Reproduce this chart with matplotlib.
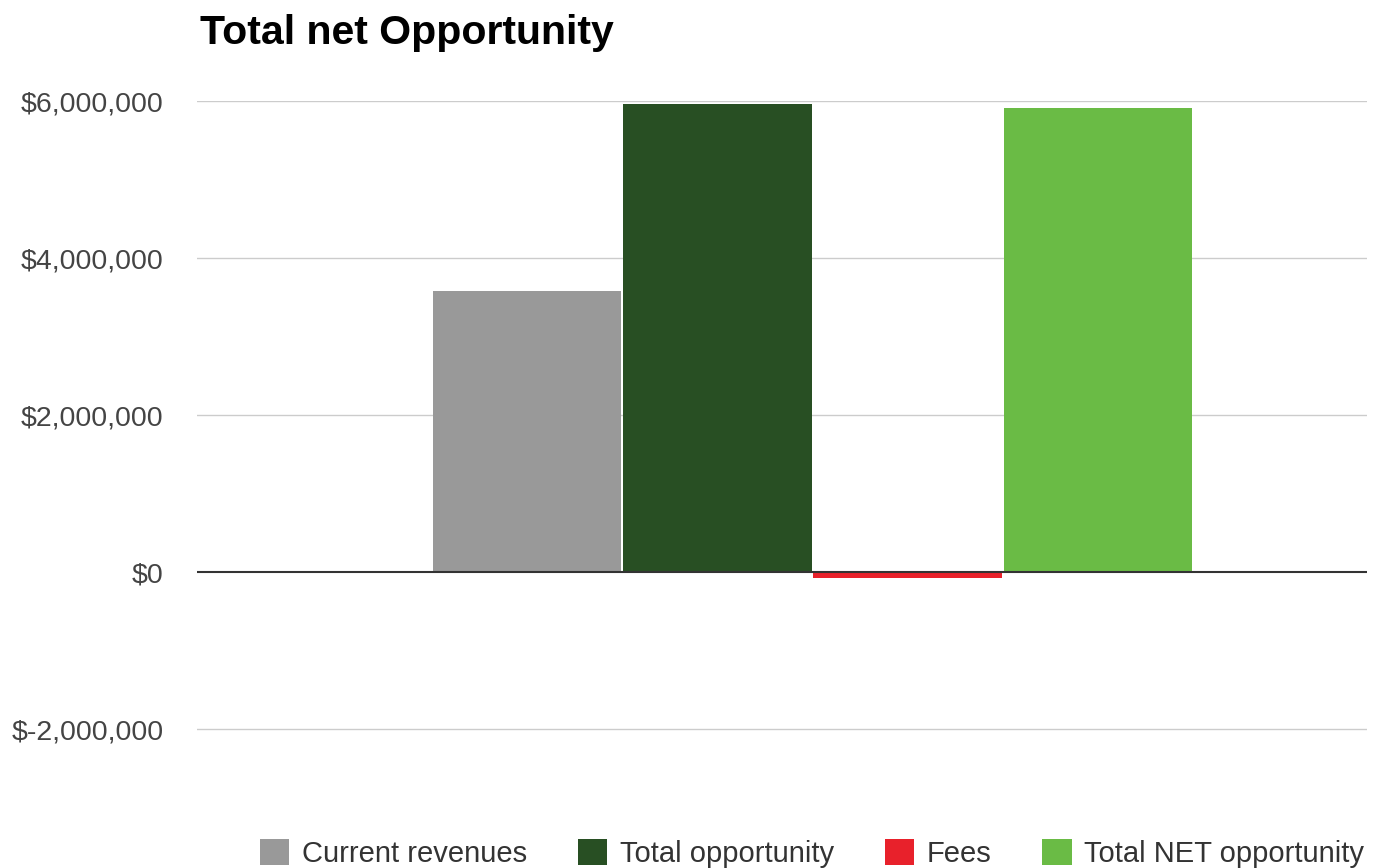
import matplotlib.pyplot as plt
from matplotlib.patches import Patch
from matplotlib.ticker import FuncFormatter

# Opportunity breakdown (USD)
series = ["Current revenues", "Total opportunity", "Fees", "Total NET opportunity"]
values = [3580000, 5960000, -70000, 5910000]
colors = ["#999999", "#284f23", "#e8212b", "#6abb45"]

ticks = [-2000000, 0, 2000000, 4000000, 6000000]

plt.rcParams['font.family'] = ['Liberation Sans', 'DejaVu Sans']

fig = plt.figure(figsize=(13.82, 8.68), dpi=100)
ax = fig.add_axes([0.1425, 0.0783, 0.8465, 0.8053])

positions = list(range(len(series)))
ax.bar(positions, values, width=0.99, color=colors, zorder=3)

# gridlines and a darker baseline at zero
for t in ticks:
    if t == 0:
        ax.axhline(t, color="#333333", linewidth=1.5, zorder=4)
    else:
        ax.axhline(t, color="#cccccc", linewidth=1, zorder=1)

ax.set_xlim(-1.735, 4.413)
ax.set_ylim(-2900000, 6000000)
ax.set_yticks(ticks)


def money(v, pos):
    if v < 0:
        return "$-{:,.0f}".format(-v)
    return "${:,.0f}".format(v)


ax.yaxis.set_major_formatter(FuncFormatter(money))
ax.tick_params(axis='y', length=0, pad=24, labelsize=20.5, labelcolor="#444444")
ax.set_xticks([])
for s in ax.spines.values():
    s.set_visible(False)

fig.text(0.1447, 0.962, "Total net Opportunity", fontsize=29.5, fontweight='bold',
         va='center', ha='left', color="#000000")

handles = [Patch(facecolor=c, label=s) for s, c in zip(series, colors)]
fig.legend(handles=handles, loc='lower right', bbox_to_anchor=(1.006, -0.03),
           ncol=4, frameon=False, fontsize=21, handlelength=1.0, handleheight=1.0,
           handletextpad=0.43, columnspacing=1.75, labelcolor="#333333")

fig.savefig("out.png", dpi=100)
